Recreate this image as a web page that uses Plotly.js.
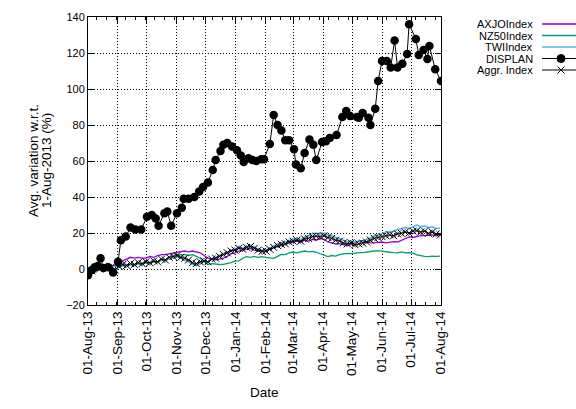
<!DOCTYPE html>
<html><head><meta charset="utf-8">
<script src="https://cdn.plot.ly/plotly-3.0.1.min.js"></script>
<style>body{margin:0;background:#fff}#chart{width:576px;height:409px}</style>
</head><body><div id="chart"></div>
<script>
// Index series sampled every 4 days from 2013-08-01
const startDate = '2013-08-01';
const stepDays = 4;
const axjo = [0,-1,0.5,1,0.5,1,1.5,2,2.5,4.5,5.5,6.5,6,6.5,6,6,7,6.5,7.5,8,8,8.5,9,9.5,9.6,10,9.5,10,9.5,9,7.5,6,5.5,5,5.5,6,7,8.5,9,10,10.5,11,11.5,10.5,10,10,10.5,11,12,12.5,13,14,14.5,15,15.5,15,16,15.5,16.5,16,17,16.5,15,14.5,14,14,13.5,13.1,13.5,14.5,15.5,15.7,15,14.5,14.6,14.6,15,14.5,15,15.2,15,16,17,17.8,17.5,18,18.5,18.5,18.7,19,18.5,19.3];
const nz50 = [0,-0.5,0.5,0,1,0.5,1,0,1,2,2,2.5,2.5,3,3,3.5,3.5,4,4,5,5,6,6.5,7.5,8,8,7.5,8,7,6,4,2.5,3,2.6,2.5,2.6,3,3.5,4.4,4.5,6,6.9,6.5,7,6.5,6.9,6.5,6,5.9,7,8.1,8,9,9.3,9,9.5,10,9.5,9.8,9.3,8.5,7.5,6.9,7.5,7.2,8,8.5,8.7,8.5,9,9.1,9.1,9.5,9.8,10,10.2,9.8,9.5,9.3,9.1,9,9.5,9,9.1,8.8,7.8,7.2,7,6.9,7.2,7,7.2];
const twii = [0,-0.5,0.5,-0.5,1,0,0.5,-1,1,2,1.5,2.5,2,3,2.5,3.5,3,4,3.5,5,4.5,6,6.5,7,6,5,4,2.5,2,3,4,4,5.5,6.5,7.5,8.5,9.5,10.5,11,12,11.5,12.5,13,12,11,10.5,10.5,11.5,12.5,14,14.5,15,16,16.5,17,16.5,17.8,18.5,19.5,20,19.5,20,19,18.5,17.5,17,16,15.2,15.5,15,15.5,15,16.5,17.5,18.5,19,19.5,20.5,20.7,21,22,22.6,23,22.5,23.5,24.4,23.5,24,23,23.5,22.5,22.6];
const aggr = [0,-1,1,0,1.5,0.5,1,-0.5,1.5,2.5,2,3,2.5,3.5,3,4,3.5,4.5,4,5.5,5,6.5,7,7.5,6.5,6,5,3.5,3,4,4.5,4,5.5,6,7,8,9,10,10.5,11.5,11,12,12.5,11.5,10.5,9.8,10,11,12,13,13.7,14,15,15.5,16,15.5,16.7,17,18,18.3,18,18.5,17.5,17,16,15.5,14.5,14,14.5,13.5,14,14.4,15,16,17,17.5,18,18.5,19,18.5,19.5,19.8,20.5,20,21,21.3,20.5,21,19.8,20.5,19.5,19];

const displanDates = ['2013-08-01','2013-08-05','2013-08-08','2013-08-11','2013-08-14','2013-08-17','2013-08-22','2013-08-27','2013-09-01','2013-09-04','2013-09-09','2013-09-14','2013-09-19','2013-09-25','2013-10-01','2013-10-06','2013-10-10','2013-10-13','2013-10-19','2013-10-22','2013-10-26','2013-11-01','2013-11-06','2013-11-08','2013-11-13','2013-11-19','2013-11-24','2013-11-28','2013-12-03','2013-12-08','2013-12-11','2013-12-16','2013-12-19','2013-12-23','2013-12-28','2014-01-02','2014-01-06','2014-01-09','2014-01-14','2014-01-18','2014-01-22','2014-01-27','2014-01-30','2014-02-05','2014-02-09','2014-02-13','2014-02-17','2014-02-21','2014-02-25','2014-03-02','2014-03-04','2014-03-09','2014-03-13','2014-03-18','2014-03-22','2014-03-25','2014-03-31','2014-04-04','2014-04-08','2014-04-15','2014-04-21','2014-04-25','2014-04-29','2014-05-06','2014-05-08','2014-05-12','2014-05-18','2014-05-20','2014-05-25','2014-05-28','2014-06-01','2014-06-06','2014-06-10','2014-06-14','2014-06-17','2014-06-22','2014-06-27','2014-06-29','2014-07-06','2014-07-09','2014-07-14','2014-07-18','2014-07-20','2014-07-26','2014-08-01'];
const displan = [-3.5,-0.5,1,1.7,6,0.5,1,-2,4,16,18,23,22,22,29,30,28,24,31,32,24,31,34,39,39,40,43,45.5,48,55,60.5,65.5,69,70,68,66,63,59.5,61.5,60.5,60,61,61,69.5,85.5,80,77,71.5,71.5,66.5,58,56,64.5,72,69,60.5,70.5,71,72.8,74.4,84.4,87.8,85,84.4,84,86.7,84,80,89,104.4,115.5,115.5,112,127,112,114,119.4,136,127.8,118.9,121.7,116.7,123.9,111,104.4];

const seriesNames = ['AXJOIndex','NZ50Index','TWIIndex','DISPLAN','Aggr. Index'];
const seriesColors = ['#9400d3','#009e73','#56b4e9','#000000','#000000'];
const yTitleLines = ['Avg. variation w.r.t.','1-Aug-2013 (%)'];
const xTitle = 'Date';

function datesFor(n){
  const out=[]; const t0=Date.UTC(2013,7,1);
  for(let i=0;i<n;i++){const d=new Date(t0+i*stepDays*86400000);out.push(d.toISOString().slice(0,10));}
  return out;
}
const idxDates = datesFor(aggr.length);

const traces = [
  {x:idxDates,y:axjo,mode:'lines',line:{color:seriesColors[0],width:1.3},name:seriesNames[0]},
  {x:idxDates,y:nz50,mode:'lines',line:{color:seriesColors[1],width:1.3},name:seriesNames[1]},
  {x:idxDates,y:twii,mode:'lines',line:{color:seriesColors[2],width:1.5},name:seriesNames[2]},
  {x:displanDates,y:displan,mode:'lines+markers',line:{color:'#000',width:1},marker:{symbol:'circle',size:8.5,color:'#000'},name:seriesNames[3]},
  {x:idxDates,y:aggr,mode:'lines+markers',line:{color:'#000',width:1},marker:{symbol:'x-thin-open',size:7,color:'#000',line:{width:1,color:'#000'}},name:seriesNames[4]}
];

// custom legend (text right-aligned, sample on the right, as in gnuplot)
const W=353,H=288,L=88,T=17;
const px=x=>(x-L)/W, py=y=>(T+H-y)/H;
const legRows=[24,35.5,47,58.5,70];
const small={family:'Liberation Sans, Arial, sans-serif',size:11,color:'#000'};
const big={family:'Liberation Sans, Arial, sans-serif',size:13.5,color:'#000'};
const annotations=[], shapes=[];
seriesNames.forEach((nm,i)=>{
  annotations.push({xref:'paper',yref:'paper',x:px(535),y:py(legRows[i]),xanchor:'right',yanchor:'middle',text:nm,showarrow:false,font:small});
  shapes.push({type:'line',xref:'paper',yref:'paper',x0:px(542),x1:px(580),y0:py(legRows[i]),y1:py(legRows[i]),line:{color:seriesColors[i],width:i<3?1.5:1}});
});
shapes.push({type:'circle',xref:'paper',yref:'paper',xsizemode:'pixel',ysizemode:'pixel',xanchor:px(561),yanchor:py(legRows[3]),x0:-4,x1:4,y0:-4,y1:4,fillcolor:'#000',line:{color:'#000',width:1}});
shapes.push({type:'line',xref:'paper',yref:'paper',xsizemode:'pixel',ysizemode:'pixel',xanchor:px(561),yanchor:py(legRows[4]),x0:-3.5,x1:3.5,y0:-3.5,y1:3.5,line:{color:'#000',width:1}});
shapes.push({type:'line',xref:'paper',yref:'paper',xsizemode:'pixel',ysizemode:'pixel',xanchor:px(561),yanchor:py(legRows[4]),x0:-3.5,x1:3.5,y0:3.5,y1:-3.5,line:{color:'#000',width:1}});
// axis titles
annotations.push({xref:'paper',yref:'paper',x:px(33),y:py(161),xanchor:'center',yanchor:'middle',textangle:-90,text:yTitleLines[0],showarrow:false,font:big});
annotations.push({xref:'paper',yref:'paper',x:px(46),y:py(161),xanchor:'center',yanchor:'middle',textangle:-90,text:yTitleLines[1],showarrow:false,font:big});
annotations.push({xref:'paper',yref:'paper',x:px(264),y:py(392),xanchor:'center',yanchor:'middle',text:xTitle,showarrow:false,font:big});

const layout={
  width:576,height:409,
  margin:{l:L,r:576-L-W,t:T,b:409-T-H,pad:0},
  paper_bgcolor:'#fff',plot_bgcolor:'#fff',
  showlegend:false,font:small,
  xaxis:{type:'date',range:['2013-08-01','2014-08-01'],dtick:'M1',tick0:'2013-08-01',tickformat:'%d-%b-%y',tickangle:-90,
    ticks:'inside',ticklen:6,tickcolor:'#000',showline:true,linecolor:'#000',linewidth:1,mirror:'ticks',
    showgrid:true,gridcolor:'#000',griddash:'1px,2px',gridwidth:1,zeroline:false,tickfont:big,
    minor:{ticks:'inside',ticklen:3,tickcolor:'#000',dtick:10*86400000,showgrid:false}},
  yaxis:{range:[-20,140],dtick:20,ticks:'inside',ticklen:6,tickcolor:'#000',showline:true,linecolor:'#000',linewidth:1,mirror:'ticks',
    showgrid:true,gridcolor:'#000',griddash:'1px,2px',gridwidth:1,zeroline:false,tickfont:small},
  annotations:annotations,shapes:shapes
};
Plotly.newPlot('chart',traces,layout,{staticPlot:true,displayModeBar:false});
</script></body></html>
